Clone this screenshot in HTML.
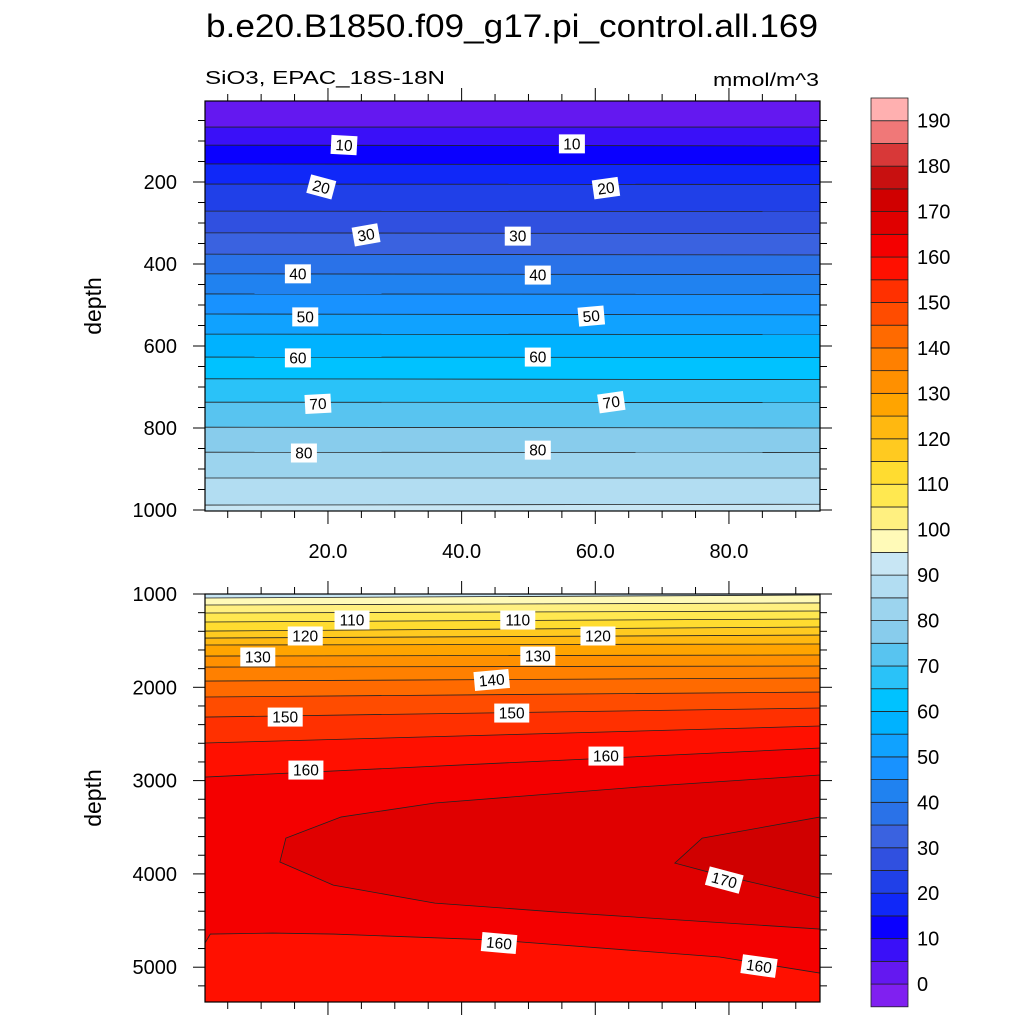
<!DOCTYPE html>
<html><head><meta charset="utf-8"><style>
html,body{margin:0;padding:0;background:#fff;}
svg{display:block;font-family:"Liberation Sans",sans-serif;}
</style></head><body>
<svg id="chart" width="1024" height="1024" viewBox="0 0 1024 1024" xmlns="http://www.w3.org/2000/svg">
<text x="512" y="37" font-size="32" text-anchor="middle" textLength="612" lengthAdjust="spacingAndGlyphs">b.e20.B1850.f09_g17.pi_control.all.169</text>
<text x="205" y="84" font-size="18" textLength="240" lengthAdjust="spacingAndGlyphs">SiO3, EPAC_18S-18N</text>
<text x="819" y="86" font-size="18" text-anchor="end" textLength="106" lengthAdjust="spacingAndGlyphs">mmol/m^3</text>
<defs>
<clipPath id="clipTop"><rect x="205" y="101" width="615" height="410"/></clipPath>
<clipPath id="clipBot"><rect x="205" y="594" width="615" height="408"/></clipPath>
</defs>
<g id="topPanel" clip-path="url(#clipTop)"></g>
<g id="botPanel" clip-path="url(#clipBot)"></g>
<g id="labels"></g>
<g id="axes"></g>
<g id="cbar"></g>
<text transform="translate(101,306) rotate(-90)" font-size="23" text-anchor="middle">depth</text>
<text transform="translate(101,798) rotate(-90)" font-size="23" text-anchor="middle">depth</text>
</svg>
<script>
// ---- data ----
const bandLevels = [0,5,10,15,20,25,30,35,40,45,50,55,60,65,70,75,80,85,90,95,100,105,110,115,120,125,130,135,140,145,150,155,160,165,170,175,180,185,190];
const bandColors = ["#8020F0","#6418F0","#3A10F8","#0A00FF","#1028F8","#2040E8","#3050E0","#3A62E0","#2A72E8","#2082F0","#1892FF","#10A2FF","#00B2FF","#00C2FF","#2AC2F8","#58C4F0","#88CCEC","#9CD4EE","#B2DDF2","#C8E6F4","#FFFAB8","#FFF080","#FFE850","#FFDC30","#FFCA20","#FFB810","#FFA400","#FF9000","#FF8000","#FF6A00","#FF4C00","#FF3000","#FF1000","#F40000","#E00000","#D00000","#C81010","#D83838","#F07878","#FFB0B0"];
const topLevels = [5,10,15,20,25,30,35,40,45,50,55,60,65,70,75,80,85,90];
const topDepthLeft = [66,110,156,205,271,324,376,424,473,522,571,627,680,737,798,859,922,988];
const topDepthRight = [66,112,158,206,272,326,378,426,474,524,572,628,682,738,800,860,922,986];
const botLevels = [95,100,105,110,115,120,125,130,135,140,145,150,155,160];
const botDepthLeft = [1043,1118,1204,1300,1397,1472,1547,1665,1783,1933,2104,2319,2597,2962];
const botDepthRight = [1011,1096,1182,1268,1354,1440,1536,1654,1772,1900,2051,2222,2415,2651];
const c160LowerX = [1.6,2.4,11.7,20.8,45.1,78.6,93.6];
const c160LowerD = [4741,4645,4634,4645,4709,4891,5063];
const c165X = [93.6,66.5,36.0,21.9,13.7,12.8,20.8,36.0,54.3,93.6];
const c165D = [2940,3069,3240,3391,3616,3873,4120,4313,4409,4591];
const c170X = [93.6,76.0,71.9,77.5,93.6];
const c170D = [3391,3616,3884,3991,4259];
const xTicks = [20,40,60,80];
const xTickLabels = ["20.0","40.0","60.0","80.0"];
const topYTicks = [200,400,600,800,1000];
const botYTicks = [1000,2000,3000,4000,5000];
const cbarLabels = [0,10,20,30,40,50,60,70,80,90,100,110,120,130,140,150,160,170,180,190];
const topLabelText = ["10","10","20","20","30","30","40","40","50","50","60","60","70","70","80","80"];
const topLabelX = [22.4,56.5,19.0,61.6,25.7,48.4,15.5,51.4,16.6,59.4,15.5,51.4,18.5,62.4,16.4,51.4];
const topLabelD = [110,107,212,215,329,332,424,427,529,527,629,627,741,737,861,854];
const topLabelA = [3,0,15,-8,-10,0,0,0,0,-5,0,0,-3,-8,0,0];
const botLabelText = ["110","110","120","120","130","130","140","150","150","160","160","170","160","160"];
const botLabelX = [23.6,48.4,16.6,60.4,9.5,51.4,44.5,13.6,47.5,16.7,61.6,79.3,45.6,84.5];
const botLabelD = [1279,1279,1450,1450,1675,1665,1922,2319,2276,2887,2737,4066,4741,4988];
const botLabelA = [0,0,0,0,0,0,-5,0,0,0,0,15,5,8];

// ---- scales ----
const X = v => 205 + (v - 1.6) * 6.683;
const YT = d => 100 + d * 0.41;
const YB = d => 594 + (d - 1000) * 0.0933;
const NS = "http://www.w3.org/2000/svg";
function mk(tag, attrs, parent){const e=document.createElementNS(NS,tag);for(const k in attrs)e.setAttribute(k,attrs[k]);parent.appendChild(e);return e;}
function colorFor(lo){return bandColors[bandLevels.indexOf(lo)+1];}
const topG=document.getElementById('topPanel'), botG=document.getElementById('botPanel');
const lab=document.getElementById('labels'), ax=document.getElementById('axes'), cb=document.getElementById('cbar');
const xmin=1.6,xmax=93.6;

// top panel
let bg=mk('rect',{x:205,y:101,width:615,height:410,fill:colorFor(90)},topG);


for(let i=topLevels.length-1;i>=0;i--){
  const L=topLevels[i];
  const pts=[[X(xmin),90],[X(xmin),YT(topDepthLeft[i])],[X(xmax),YT(topDepthRight[i])],[X(xmax),90]];
  const p=mk('polygon',{points:pts.map(q=>q.join(',')).join(' '),fill:colorFor(L-5)},topG);
  
  
}
for(let i=0;i<topLevels.length;i++){
  const l=mk('line',{x1:X(xmin),y1:YT(topDepthLeft[i]),x2:X(xmax),y2:YT(topDepthRight[i]),stroke:'#222',"stroke-width":0.8},topG);
  
  
}
// bottom panel
bg=mk('rect',{x:205,y:594,width:615,height:408,fill:colorFor(155)},botG);


function poly(xs,ds,extra){return xs.map((x,i)=>X(x)+','+YB(ds[i])).join(' ')+(extra||'');}
let p=mk('polygon',{points:X(xmin)+',580 '+poly(c160LowerX,c160LowerD)+' '+X(xmax)+',580',fill:colorFor(160)},botG);


p=mk('polygon',{points:poly(c165X,c165D),fill:colorFor(165),stroke:'#222','stroke-width':0.8,'stroke-linejoin':'round'},botG);


p=mk('polygon',{points:poly(c170X,c170D),fill:colorFor(170),stroke:'#222','stroke-width':0.8},botG);


p=mk('polyline',{points:poly(c160LowerX,c160LowerD),fill:'none',stroke:'#222','stroke-width':0.8},botG);


for(let i=botLevels.length-1;i>=0;i--){
  const L=botLevels[i];
  const pts=[[X(xmin),580],[X(xmin),YB(botDepthLeft[i])],[X(xmax),YB(botDepthRight[i])],[X(xmax),580]];
  const q=mk('polygon',{points:pts.map(r=>r.join(',')).join(' '),fill:colorFor(L-5)},botG);
  
  
}
for(let i=0;i<botLevels.length;i++){
  const l=mk('line',{x1:X(xmin),y1:YB(botDepthLeft[i]),x2:X(xmax),y2:YB(botDepthRight[i]),stroke:'#222',"stroke-width":0.8},botG);
  
  
}
// contour labels
function addLabel(t,x,y,a,name){
  const g=mk('g',{transform:`translate(${x},${y}) rotate(${a})`},lab);
  
  
  const w=t.length*9+8;
  mk('rect',{x:-w/2,y:-9.5,width:w,height:19,fill:'#fff'},g);
  mk('text',{x:0,y:5.5,"font-size":15.5,"text-anchor":"middle"},g).textContent=t;
}
for(let i=0;i<topLabelText.length;i++) addLabel(topLabelText[i],X(topLabelX[i]),YT(topLabelD[i]),topLabelA[i],'top-contour-label-'+topLabelText[i]);
for(let i=0;i<botLabelText.length;i++) addLabel(botLabelText[i],X(botLabelX[i]),YB(botLabelD[i]),botLabelA[i],'bottom-contour-label-'+botLabelText[i]);

// axes
function frame(y0,y1,name){
  const r=mk('rect',{x:205,y:y0,width:615,height:y1-y0,fill:'none',stroke:'#000','stroke-width':1.2},ax);
  
  
  for(let v=5;v<=90;v+=5){
    const L=(v%20===0)?13:7, x=X(v);
    mk('line',{x1:x,y1:y0,x2:x,y2:y0-L,stroke:'#000'},ax);
    mk('line',{x1:x,y1:y1,x2:x,y2:y1+L,stroke:'#000'},ax);
  }
}
frame(101,511,'top-plot-frame');
frame(594,1002,'bottom-plot-frame');
for(let d=50;d<=1000;d+=50){
  const y=YT(d); if(y<101) continue;
  const L=(d%200===0)?12:7;
  mk('line',{x1:205,y1:y,x2:205-L,y2:y,stroke:'#000'},ax);
  mk('line',{x1:820,y1:y,x2:820+L,y2:y,stroke:'#000'},ax);
}
for(let d=1000;d<=5300;d+=200){
  const y=YB(d);
  const L=(d%1000===0)?12:7;
  mk('line',{x1:205,y1:y,x2:205-L,y2:y,stroke:'#000'},ax);
  mk('line',{x1:820,y1:y,x2:820+L,y2:y,stroke:'#000'},ax);
}
topYTicks.forEach(d=>{
  const t=mk('text',{x:177,y:YT(d)+7,"font-size":20,"text-anchor":"end"},ax);t.textContent=d;
  
  
});
botYTicks.forEach(d=>{
  const t=mk('text',{x:177,y:YB(d)+7,"font-size":20,"text-anchor":"end"},ax);t.textContent=d;
  
  
});
xTicks.forEach((v,i)=>{
  const t=mk('text',{x:X(v),y:558,"font-size":20,"text-anchor":"middle"},ax);t.textContent=xTickLabels[i];
  
  
});

// colorbar
const cbTop=98, cbH=22.72, n=bandColors.length;
for(let i=0;i<n;i++){
  const y=cbTop+(n-1-i)*cbH;
  const r=mk('rect',{x:871,y:y,width:37,height:cbH,fill:bandColors[i],stroke:'#222','stroke-width':0.8},cb);
  
  
}
cbarLabels.forEach(v=>{
  const k=bandLevels.indexOf(v);
  const y=cbTop+(n-1-k)*cbH;
  const t=mk('text',{x:917,y:y+7,"font-size":20},cb);t.textContent=v;
  
  
});
</script>
</body></html>
